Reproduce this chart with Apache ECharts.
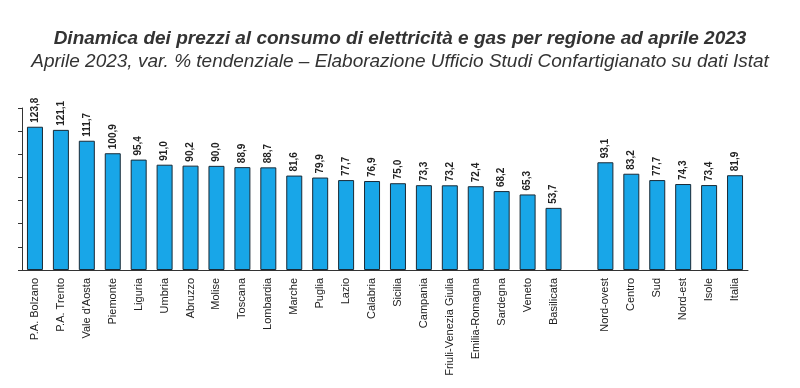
<!DOCTYPE html>
<html><head><meta charset="utf-8">
<script src="https://cdn.jsdelivr.net/npm/echarts@6/dist/echarts.min.js"></script>
<style>html,body{margin:0;padding:0;background:#fff}#c{width:800px;height:388px}</style>
</head><body><div id="c"></div>
<script>
const categories = ["P.A. Bolzano","P.A. Trento","Vale d'Aosta","Piemonte","Liguria","Umbria","Abruzzo","Molise","Toscana","Lombardia","Marche","Puglia","Lazio","Calabria","Sicilia","Campania","Friuli-Venezia Giulia","Emilia-Romagna","Sardegna","Veneto","Basilicata","","Nord-ovest","Centro","Sud","Nord-est","Isole","Italia"];
const values = [123.8,121.1,111.7,100.9,95.4,91.0,90.2,90.0,88.9,88.7,81.6,79.9,77.7,76.9,75.0,73.3,73.2,72.4,68.2,65.3,53.7,null,93.1,83.2,77.7,74.3,73.4,81.9];
const titleText = "Dinamica dei prezzi al consumo di elettricità e gas per regione ad aprile 2023";
const subtitleText = "Aprile 2023, var. % tendenziale – Elaborazione Ufficio Studi Confartigianato su dati Istat";

const chart = echarts.init(document.getElementById('c'), null, {renderer:'canvas'});
chart.setOption({
  animation:false,
  title:{
    text:titleText, subtext:subtitleText,
    left:'center', top:24, itemGap:3,
    textStyle:{fontFamily:'Liberation Sans',fontSize:19,lineHeight:20,fontWeight:'bold',fontStyle:'italic',color:'#333'},
    subtextStyle:{fontFamily:'Liberation Sans',fontSize:19,lineHeight:20,fontStyle:'italic',color:'#333'}
  },
  grid:{left:22,right:52,top:108,bottom:118},
  xAxis:{
    type:'category', data:categories,
    axisLine:{lineStyle:{color:'#333',width:1}},
    axisTick:{show:false},
    axisLabel:{rotate:90,interval:0,fontFamily:'Liberation Sans',fontSize:11,color:'#222',margin:8}
  },
  yAxis:{
    type:'value', min:0, max:140, interval:20,
    axisLine:{show:true,lineStyle:{color:'#333',width:1}},
    axisTick:{show:true,length:4,lineStyle:{color:'#333'}},
    axisLabel:{show:false},
    splitLine:{show:false}
  },
  series:[{
    type:'bar', data:values, barWidth:16,
    itemStyle:{color:'#18a6e8',borderColor:'#1a2a36',borderWidth:1},
    label:{show:true,position:'top',rotate:90,align:'left',verticalAlign:'middle',distance:4,
      fontFamily:'Liberation Sans',fontSize:10,fontWeight:'bold',color:'#222',
      formatter:p=>p.value==null?'':p.value.toFixed(1).replace('.',',')}
  }]
});
</script></body></html>
